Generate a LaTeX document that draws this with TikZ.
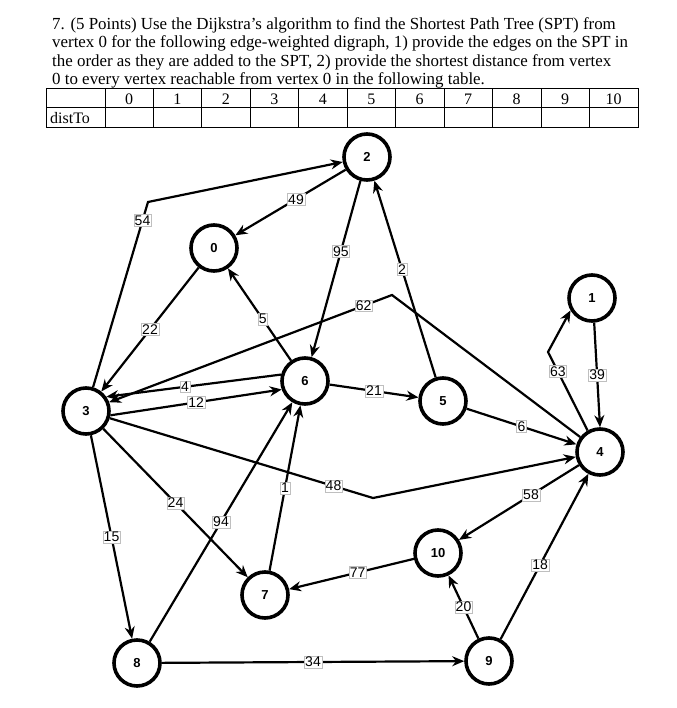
\documentclass[tikz,border=0pt]{standalone}
\usepackage{fontspec}
\setmainfont{Liberation Serif}
\newfontfamily\gsans{Liberation Sans}
\usetikzlibrary{arrows.meta}
\begin{document}
\begin{tikzpicture}[x=1pt,y=-1pt,
  vtx/.style={circle,draw,line width=3.6pt,minimum size=46pt,inner sep=0pt,font=\gsans\bfseries\fontsize{13}{13}\selectfont},
  ed/.style={line width=2.2pt,-{Stealth[length=12pt,width=10pt]}},
  wl/.style={fill=white,draw=black!25,line width=0.4pt,inner sep=1pt,font=\gsans\fontsize{14}{14}\selectfont},
  ln/.style={anchor=west,inner sep=0pt,font=\fontsize{16.9}{16.9}\selectfont}]
\useasboundingbox (0,0) rectangle (676,708);
\node[ln] (l1) at (52,25) {7. (5 Points) Use the Dijkstra's algorithm to find the Shortest Path Tree (SPT) from};
\node[ln] (l2) at (52,43) {vertex 0 for the following edge-weighted digraph, 1) provide the edges on the SPT in};
\node[ln] (l3) at (52,62) {the order as they are added to the SPT, 2) provide the shortest distance from vertex};
\node[ln] (l4) at (52,80) {0 to every vertex reachable from vertex 0 in the following table.};
% table
\draw[line width=1pt] (46,89) rectangle (638,128);
\draw[line width=1pt] (46,108) -- (638,108);
\foreach \i in {0,...,10}{
  \draw[line width=1pt] ({105+48.45*\i},89) -- ({105+48.45*\i},128);
  \node[font=\fontsize{16}{16}\selectfont] (h\i) at ({129+48.45*\i},99) {\i};
}
\node[anchor=west,font=\fontsize{16}{16}\selectfont,inner sep=0pt] (dt) at (50,118) {distTo};
% vertices
\node[vtx] (v2) at (367,157) {2};
\node[vtx] (v0) at (214,248) {0};
\node[vtx] (v1) at (592,298) {1};
\node[vtx] (v6) at (305,381) {6};
\node[vtx] (v5) at (443,401) {5};
\node[vtx] (v3) at (86,411) {3};
\node[vtx] (v4) at (600,452) {4};
\node[vtx] (v10) at (438,553) {10};
\node[vtx] (v7) at (265,595) {7};
\node[vtx] (v8) at (137,663) {8};
\node[vtx] (v9) at (489,661) {9};
\coordinate (b54) at (148,202);
\coordinate (b62) at (392,295);
\coordinate (b48) at (373,498);
\coordinate (b63) at (548,352);
% edges
\draw[ed] (v3) -- (b54) node[wl,pos=0.9] {54} -- (v2);
\draw[ed] (v2) -- node[wl,pos=0.45] {49} (v0);
\draw[ed] (v2) -- node[wl,pos=0.4] {95} (v6);
\draw[ed] (v5) -- node[wl,pos=0.55] {2} (v2);
\draw[ed] (v0) -- node[wl] {22} (v3);
\draw[ed] (v6) -- node[wl,pos=0.45] {5} (v0);
\draw[ed] (v4) -- (b62) -- node[wl,pos=0.1] {62} (v3);
\draw[ed] (v6.165) -- node[wl,pos=0.55] {4} (v3.35);
\draw[ed] (v3.-10) -- node[wl,pos=0.5] {12} (v6.200);
\draw[ed] (v6) -- node[wl,pos=0.5] {21} (v5);
\draw[ed] (v5) -- node[wl,pos=0.5] {6} (v4);
\draw[ed] (v3) -- (b48) node[wl,pos=0.85] {48} -- (v4);
\draw[ed] (v4.120) -- node[wl,pos=0.75] {63} (b63) -- (v1.210);
\draw[ed] (v1.-85) -- node[wl,pos=0.5] {39} (v4.90);
\draw[ed] (v4) -- node[wl,pos=0.4] {58} (v10);
\draw[ed] (v9) -- node[wl,pos=0.45] {18} (v4);
\draw[ed] (v9) -- node[wl,pos=0.5] {20} (v10);
\draw[ed] (v10) -- node[wl,pos=0.45] {77} (v7);
\draw[ed] (v7) -- node[wl,pos=0.5] {1} (v6);
\draw[ed] (v8) -- node[wl,pos=0.5] {94} (v6);
\draw[ed] (v3) -- node[wl,pos=0.5] {24} (v7);
\draw[ed] (v3) -- node[wl,pos=0.5] {15} (v8);
\draw[ed] (v8) -- node[wl,pos=0.5] {34} (v9);
\end{tikzpicture}
\end{document}
